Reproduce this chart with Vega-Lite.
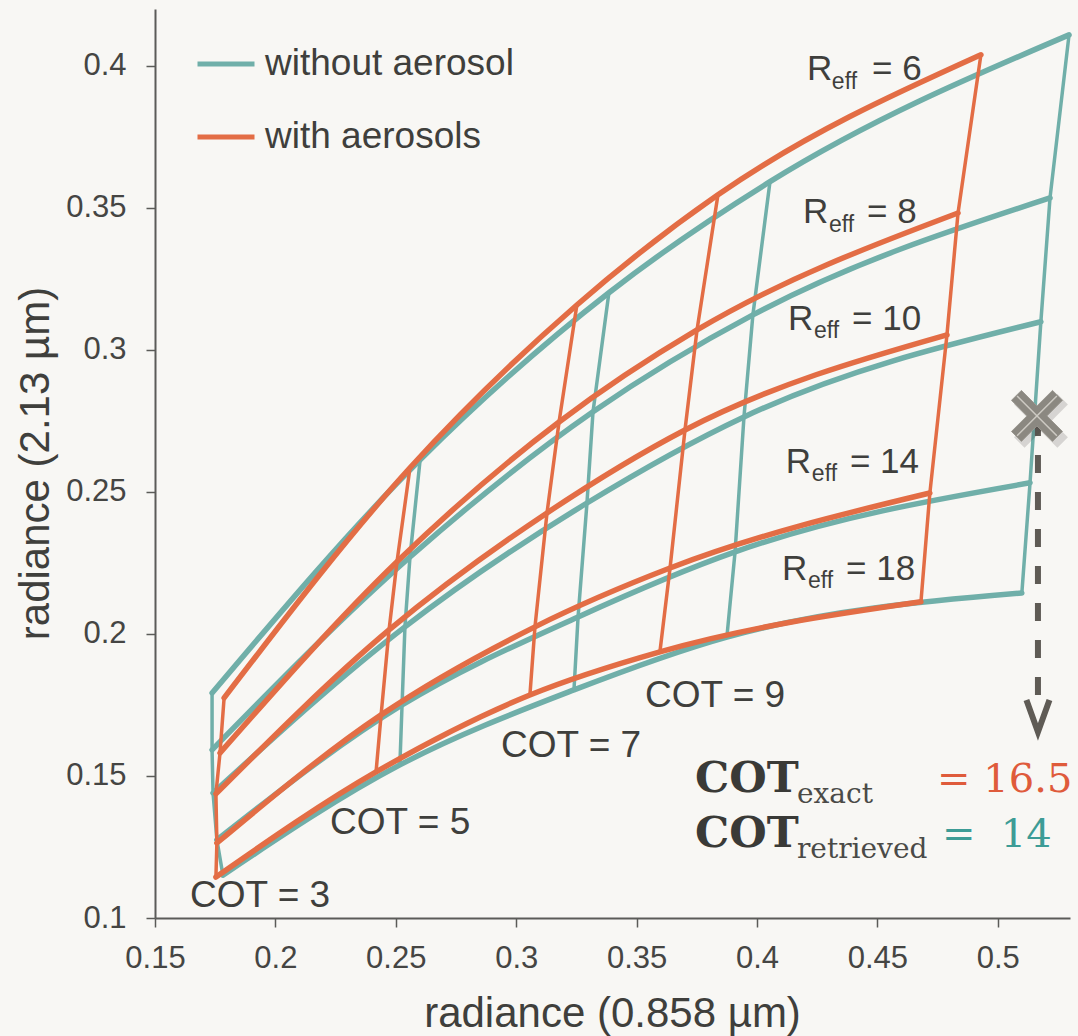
{
  "$schema": "https://vega.github.io/schema/vega-lite/v6.json",
  "autosize": {"type": "none"},
  "padding": {"left": 155, "top": 9, "right": 8, "bottom": 118},
  "width": 915,
  "height": 909,
  "background": "#f8f7f4",
  "config": {
    "view": {"stroke": null},
    "font": "Liberation Sans",
    "axis": {
      "grid": false,
      "labelFont": "Liberation Sans",
      "labelFontSize": 31,
      "labelColor": "#454543",
      "labelFlush": false,
      "labelOverlap": false,
      "tickSize": 9,
      "tickWidth": 1.5,
      "tickColor": "#5b5b58",
      "domainColor": "#5b5b58",
      "domainWidth": 2,
      "titleFont": "Liberation Sans",
      "titleFontSize": 42,
      "titleFontWeight": "normal",
      "titleColor": "#3f3f3c"
    }
  },
  "datasets": {
    "grid": [
      {"series": "without aerosol", "reff": 6, "cot": 3, "x": 0.1737, "y": 0.1792},
      {"series": "without aerosol", "reff": 6, "cot": 5, "x": 0.2601, "y": 0.2613},
      {"series": "without aerosol", "reff": 6, "cot": 7, "x": 0.3385, "y": 0.3201},
      {"series": "without aerosol", "reff": 6, "cot": 9, "x": 0.4054, "y": 0.3592},
      {"series": "without aerosol", "reff": 6, "cot": 16, "x": 0.5296, "y": 0.4109},
      {"series": "without aerosol", "reff": 8, "cot": 3, "x": 0.1737, "y": 0.1592},
      {"series": "without aerosol", "reff": 8, "cot": 5, "x": 0.2559, "y": 0.2271},
      {"series": "without aerosol", "reff": 8, "cot": 7, "x": 0.3319, "y": 0.2782},
      {"series": "without aerosol", "reff": 8, "cot": 9, "x": 0.3983, "y": 0.3123},
      {"series": "without aerosol", "reff": 8, "cot": 16, "x": 0.5217, "y": 0.3535},
      {"series": "without aerosol", "reff": 10, "cot": 3, "x": 0.1741, "y": 0.1440},
      {"series": "without aerosol", "reff": 10, "cot": 5, "x": 0.2538, "y": 0.2025},
      {"series": "without aerosol", "reff": 10, "cot": 7, "x": 0.3294, "y": 0.2461},
      {"series": "without aerosol", "reff": 10, "cot": 9, "x": 0.3946, "y": 0.2764},
      {"series": "without aerosol", "reff": 10, "cot": 16, "x": 0.5179, "y": 0.3099},
      {"series": "without aerosol", "reff": 14, "cot": 3, "x": 0.1757, "y": 0.1275},
      {"series": "without aerosol", "reff": 14, "cot": 5, "x": 0.2526, "y": 0.1750},
      {"series": "without aerosol", "reff": 14, "cot": 7, "x": 0.3257, "y": 0.2060},
      {"series": "without aerosol", "reff": 14, "cot": 9, "x": 0.3909, "y": 0.2289},
      {"series": "without aerosol", "reff": 14, "cot": 16, "x": 0.5134, "y": 0.2532},
      {"series": "without aerosol", "reff": 18, "cot": 3, "x": 0.1782, "y": 0.1151},
      {"series": "without aerosol", "reff": 18, "cot": 5, "x": 0.2517, "y": 0.1539},
      {"series": "without aerosol", "reff": 18, "cot": 7, "x": 0.3240, "y": 0.1803},
      {"series": "without aerosol", "reff": 18, "cot": 9, "x": 0.3875, "y": 0.1989},
      {"series": "without aerosol", "reff": 18, "cot": 16, "x": 0.5100, "y": 0.2144},
      {"series": "with aerosols", "reff": 6, "cot": 3, "x": 0.1787, "y": 0.1775},
      {"series": "with aerosols", "reff": 6, "cot": 5, "x": 0.2559, "y": 0.2585},
      {"series": "with aerosols", "reff": 6, "cot": 7, "x": 0.3252, "y": 0.3158},
      {"series": "with aerosols", "reff": 6, "cot": 9, "x": 0.3838, "y": 0.3546},
      {"series": "with aerosols", "reff": 6, "cot": 16, "x": 0.4930, "y": 0.4039},
      {"series": "with aerosols", "reff": 8, "cot": 3, "x": 0.1770, "y": 0.1581},
      {"series": "with aerosols", "reff": 8, "cot": 5, "x": 0.2505, "y": 0.2254},
      {"series": "with aerosols", "reff": 8, "cot": 7, "x": 0.3178, "y": 0.2746},
      {"series": "with aerosols", "reff": 8, "cot": 9, "x": 0.3751, "y": 0.3070},
      {"series": "with aerosols", "reff": 8, "cot": 16, "x": 0.4835, "y": 0.3482},
      {"series": "with aerosols", "reff": 10, "cot": 3, "x": 0.1753, "y": 0.1437},
      {"series": "with aerosols", "reff": 10, "cot": 5, "x": 0.2472, "y": 0.2014},
      {"series": "with aerosols", "reff": 10, "cot": 7, "x": 0.3128, "y": 0.2426},
      {"series": "with aerosols", "reff": 10, "cot": 9, "x": 0.3701, "y": 0.2718},
      {"series": "with aerosols", "reff": 10, "cot": 16, "x": 0.4789, "y": 0.3053},
      {"series": "with aerosols", "reff": 14, "cot": 3, "x": 0.1757, "y": 0.1264},
      {"series": "with aerosols", "reff": 14, "cot": 5, "x": 0.2439, "y": 0.1715},
      {"series": "with aerosols", "reff": 14, "cot": 7, "x": 0.3078, "y": 0.2025},
      {"series": "with aerosols", "reff": 14, "cot": 9, "x": 0.3639, "y": 0.2232},
      {"series": "with aerosols", "reff": 14, "cot": 16, "x": 0.4718, "y": 0.2496},
      {"series": "with aerosols", "reff": 18, "cot": 3, "x": 0.1753, "y": 0.1144},
      {"series": "with aerosols", "reff": 18, "cot": 5, "x": 0.2418, "y": 0.1514},
      {"series": "with aerosols", "reff": 18, "cot": 7, "x": 0.3057, "y": 0.1785},
      {"series": "with aerosols", "reff": 18, "cot": 9, "x": 0.3597, "y": 0.1937},
      {"series": "with aerosols", "reff": 18, "cot": 16, "x": 0.4681, "y": 0.2113}
    ],
    "labels": [
      {"kind": "reff", "text": "R", "x": 0.4208, "y": 0.3951},
      {"kind": "sub", "text": "eff", "x": 0.4311, "y": 0.3919},
      {"kind": "reff", "text": "= 6", "x": 0.4478, "y": 0.3951},
      {"kind": "reff", "text": "R", "x": 0.4191, "y": 0.3447},
      {"kind": "sub", "text": "eff", "x": 0.4299, "y": 0.3415},
      {"kind": "reff", "text": "= 8", "x": 0.4457, "y": 0.3447},
      {"kind": "reff", "text": "R", "x": 0.4129, "y": 0.3070},
      {"kind": "sub", "text": "eff", "x": 0.4237, "y": 0.3042},
      {"kind": "reff", "text": "= 10", "x": 0.4395, "y": 0.3070},
      {"kind": "reff", "text": "R", "x": 0.4120, "y": 0.2567},
      {"kind": "sub", "text": "eff", "x": 0.4228, "y": 0.2539},
      {"kind": "reff", "text": "= 14", "x": 0.4386, "y": 0.2567},
      {"kind": "reff", "text": "R", "x": 0.4104, "y": 0.2190},
      {"kind": "sub", "text": "eff", "x": 0.4212, "y": 0.2162},
      {"kind": "reff", "text": "= 18", "x": 0.4370, "y": 0.2190},
      {"kind": "cot", "text": "COT = 9", "x": 0.3535, "y": 0.1743},
      {"kind": "cot", "text": "COT = 7", "x": 0.2937, "y": 0.1567},
      {"kind": "cot", "text": "COT = 5", "x": 0.2227, "y": 0.1296},
      {"kind": "cot", "text": "COT = 3", "x": 0.1645, "y": 0.1039},
      {"kind": "serif", "text": "COT", "x": 0.3743, "y": 0.1444},
      {"kind": "serifsub", "text": "exact", "x": 0.4166, "y": 0.1405},
      {"kind": "exact", "text": "= 16.5", "x": 0.4748, "y": 0.1444},
      {"kind": "serif", "text": "COT", "x": 0.3743, "y": 0.1250},
      {"kind": "serifsub", "text": "retrieved", "x": 0.4166, "y": 0.1211},
      {"kind": "retrieved", "text": "= \u00a014", "x": 0.4768, "y": 0.1250}
    ],
    "marker": [{"x": 0.51628, "y": 0.27676}],
    "arrow": [{"x": 0.51669, "y": 0.27606, "y2": 0.17254}],
    "arrowhead": [{"x": 0.51669, "y": 0.17113}]
  },
  "encoding": {
    "x": {
      "field": "x", "type": "quantitative",
      "scale": {"domain": [0.15, 0.53], "nice": false, "zero": false},
      "axis": {
        "values": [0.15, 0.2, 0.25, 0.3, 0.35, 0.4, 0.45, 0.5],
        "format": "~g",
        "labelPadding": 16,
        "title": "radiance (0.858 µm)",
        "titleX": 457, "titleY": 108, "titleBaseline": "alphabetic", "titleAlign": "center"
      }
    },
    "y": {
      "field": "y", "type": "quantitative",
      "scale": {"domain": [0.1, 0.42], "nice": false, "zero": false},
      "axis": {
        "values": [0.1, 0.15, 0.2, 0.25, 0.3, 0.35, 0.4],
        "format": "~g",
        "labelPadding": 20,
        "title": "radiance (2.13 µm)",
        "titleX": -107, "titleY": 454, "titleAngle": -90, "titleBaseline": "alphabetic", "titleAlign": "center"
      }
    }
  },
  "layer": [
    {
      "data": {"name": "grid"},
      "encoding": {
        "color": {
          "field": "series", "type": "nominal",
          "scale": {"domain": ["without aerosol", "with aerosols"], "range": ["#70afa9", "#e36d45"]},
          "legend": {
            "title": null, "orient": "none", "legendX": 40, "legendY": 24,
            "symbolType": "stroke", "symbolSize": 3249, "symbolStrokeWidth": 5,
            "labelFontSize": 37, "labelFont": "Liberation Sans", "labelColor": "#3f3f3c",
            "labelLimit": 600,
            "rowPadding": 24, "labelOffset": 8, "padding": 0
          }
        }
      },
      "layer": [
        {
          "transform": [{"filter": "datum.series === 'without aerosol'"}],
          "mark": {"type": "line", "interpolate": "monotone", "strokeWidth": 5.5, "strokeCap": "round", "strokeJoin": "round"},
          "encoding": {"detail": {"field": "reff"}, "order": {"field": "cot", "type": "quantitative"}}
        },
        {
          "transform": [{"filter": "datum.series === 'without aerosol'"}],
          "mark": {"type": "line", "strokeWidth": 3.5, "strokeCap": "round"},
          "encoding": {"detail": {"field": "cot"}, "order": {"field": "reff", "type": "quantitative"}}
        },
        {
          "transform": [{"filter": "datum.series === 'with aerosols'"}],
          "mark": {"type": "line", "interpolate": "monotone", "strokeWidth": 5.5, "strokeCap": "round", "strokeJoin": "round"},
          "encoding": {"detail": {"field": "reff"}, "order": {"field": "cot", "type": "quantitative"}}
        },
        {
          "transform": [{"filter": "datum.series === 'with aerosols'"}],
          "mark": {"type": "line", "strokeWidth": 3.5, "strokeCap": "round"},
          "encoding": {"detail": {"field": "cot"}, "order": {"field": "reff", "type": "quantitative"}}
        }
      ]
    },
    {
      "data": {"name": "arrow"},
      "mark": {"type": "rule", "color": "#5f5b55", "strokeWidth": 6, "strokeDash": [18, 19]},
      "encoding": {"y2": {"field": "y2"}}
    },
    {
      "data": {"name": "arrowhead"},
      "mark": {"type": "point", "shape": "M-0.72,-1L0,1L0.72,-1", "size": 1024, "filled": false, "stroke": "#5f5b55", "strokeWidth": 6, "strokeJoin": "miter", "opacity": 1}
    },
    {
      "data": {"name": "marker"},
      "mark": {"type": "point", "shape": "M-1,-0.61L-0.61,-1L0,-0.39L0.61,-1L1,-0.61L0.39,0L1,0.61L0.61,1L0,0.39L-0.61,1L-1,0.61L-0.39,0Z", "size": 2900, "filled": true, "fill": "#3d3a35", "opacity": 0.18, "strokeWidth": 0, "xOffset": 4, "yOffset": 5}
    },
    {
      "data": {"name": "marker"},
      "mark": {"type": "point", "shape": "M-1,-0.61L-0.61,-1L0,-0.39L0.61,-1L1,-0.61L0.39,0L1,0.61L0.61,1L0,0.39L-0.61,1L-1,0.61L-0.39,0Z", "size": 2601, "filled": true, "fill": "#8b8881", "stroke": "#9c9992", "strokeWidth": 1, "opacity": 1}
    },
    {
      "data": {"name": "marker"},
      "mark": {"type": "point", "shape": "M-0.78,-0.78L0.78,0.78M-0.78,0.78L0.78,-0.78", "size": 2601, "filled": false, "stroke": "#cdcac3", "strokeWidth": 1.5, "opacity": 1}
    },
    {
      "data": {"name": "labels"},
      "transform": [{"filter": "datum.kind === 'reff'"}],
      "mark": {"type": "text", "align": "left", "baseline": "alphabetic", "font": "Liberation Sans", "fontSize": 35, "fill": "#3f3f3c"},
      "encoding": {"text": {"field": "text"}}
    },
    {
      "data": {"name": "labels"},
      "transform": [{"filter": "datum.kind === 'sub'"}],
      "mark": {"type": "text", "align": "left", "baseline": "alphabetic", "font": "Liberation Sans", "fontSize": 23, "fill": "#3f3f3c"},
      "encoding": {"text": {"field": "text"}}
    },
    {
      "data": {"name": "labels"},
      "transform": [{"filter": "datum.kind === 'cot'"}],
      "mark": {"type": "text", "align": "left", "baseline": "alphabetic", "font": "Liberation Sans", "fontSize": 37, "fill": "#3f3f3c"},
      "encoding": {"text": {"field": "text"}}
    },
    {
      "data": {"name": "labels"},
      "transform": [{"filter": "datum.kind === 'serif'"}],
      "mark": {"type": "text", "align": "left", "baseline": "alphabetic", "font": "DejaVu Serif", "fontSize": 43, "fontWeight": "bold", "fill": "#3a3a37"},
      "encoding": {"text": {"field": "text"}}
    },
    {
      "data": {"name": "labels"},
      "transform": [{"filter": "datum.kind === 'serifsub'"}],
      "mark": {"type": "text", "align": "left", "baseline": "alphabetic", "font": "DejaVu Serif", "fontSize": 28, "fill": "#4a4a47"},
      "encoding": {"text": {"field": "text"}}
    },
    {
      "data": {"name": "labels"},
      "transform": [{"filter": "datum.kind === 'exact'"}],
      "mark": {"type": "text", "align": "left", "baseline": "alphabetic", "font": "DejaVu Serif", "fontSize": 40, "fill": "#df5b3b"},
      "encoding": {"text": {"field": "text"}}
    },
    {
      "data": {"name": "labels"},
      "transform": [{"filter": "datum.kind === 'retrieved'"}],
      "mark": {"type": "text", "align": "left", "baseline": "alphabetic", "font": "DejaVu Serif", "fontSize": 40, "fill": "#3d9c96"},
      "encoding": {"text": {"field": "text"}}
    }
  ]
}
